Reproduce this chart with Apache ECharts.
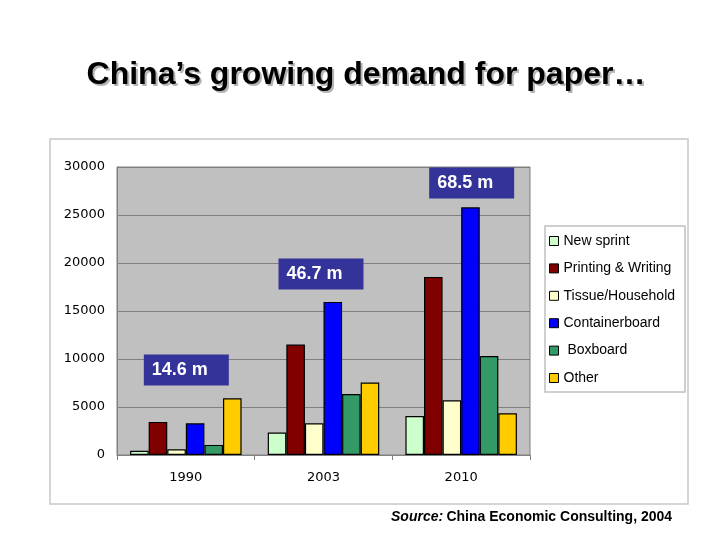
<!DOCTYPE html>
<html><head><meta charset="utf-8">
<script src="https://cdn.jsdelivr.net/npm/echarts@6/dist/echarts.min.js"></script>
<style>html,body{margin:0;padding:0;background:#fff}#c{width:720px;height:540px}</style>
</head><body><div id="c"></div>
<script>
const categories = ['1990', '2003', '2010'];
const seriesNames = ['New sprint', 'Printing & Writing', 'Tissue/Household', 'Containerboard', ' Boxboard', 'Other'];
const newsprint = [450, 2350, 4050];
const printing = [3450, 11500, 18550];
const tissue = [600, 3300, 5700];
const container = [3300, 15950, 25800];
const boxboard = [1050, 6350, 10300];
const other = [5900, 7550, 4350];
const totals = ['14.6 m', '46.7 m', '68.5 m'];
const yTicks = [0, 5000, 10000, 15000, 20000, 25000, 30000];
const colors = ['#ccffcc', '#800000', '#ffffcc', '#0000ff', '#339966', '#ffcc00'];
const values = [newsprint, printing, tissue, container, boxboard, other];
const titleText = 'China\u2019s growing demand for paper\u2026';

const chart = echarts.init(document.getElementById('c'), null, {renderer: 'canvas'});
const series = seriesNames.map((n, i) => ({
  name: n, type: 'bar', data: values[i], barGap: '0%', barCategoryGap: '19%',
  itemStyle: {color: colors[i], borderColor: '#000', borderWidth: 1.2}
}));
chart.setOption({
  animation: false,
  graphic: [
    {type: 'rect', shape: {x: 50, y: 139, width: 638, height: 365}, style: {fill: '#fff', stroke: '#c8c8c8', lineWidth: 1.5}, z: -10},
    {type: 'text', x: 368, y: 77, z: 1, style: {text: titleText, font: 'bold 32px "Liberation Sans", Arial', fill: '#b4b4b4', align: 'center', verticalAlign: 'middle'}},
    {type: 'text', x: 366, y: 75, z: 2, style: {text: titleText, font: 'bold 32px "Liberation Sans", Arial', fill: '#000', align: 'center', verticalAlign: 'middle'}},
    {type: 'text', x: 391, y: 517, style: {verticalAlign: 'middle', rich: {i: {font: 'italic bold 14px "Liberation Sans", Arial', fill: '#000'}, n: {font: 'bold 14px "Liberation Sans", Arial', fill: '#000'}}, text: '{i|Source:} {n|China Economic Consulting, 2004}'}}
  ],
  grid: {left: 117, right: 190, top: 167, bottom: 85, show: true, backgroundColor: '#c0c0c0', borderColor: '#808080', borderWidth: 1},
  legend: {
    orient: 'vertical', left: 545, top: 226, width: 140, height: 166,
    padding: [8, 10, 7, 4], itemWidth: 9, itemHeight: 9, itemGap: 13.4,
    backgroundColor: '#fff', borderColor: '#c0c0c0', borderWidth: 1.5,
    textStyle: {fontFamily: '"Liberation Sans", Arial', fontSize: 14, color: '#000', padding: [0, 0, 0, 0]},
    icon: 'rect',
    itemStyle: {borderColor: '#000', borderWidth: 1},
    data: seriesNames
  },
  xAxis: {
    type: 'category', data: categories,
    axisLine: {lineStyle: {color: '#808080'}},
    axisTick: {show: true, length: 5, lineStyle: {color: '#808080'}},
    axisLabel: {fontFamily: '"DejaVu Sans", Verdana', fontSize: 13, color: '#000', margin: 16}
  },
  yAxis: {
    type: 'value', min: 0, max: 30000, interval: 5000,
    axisLine: {show: true, lineStyle: {color: '#808080'}},
    axisTick: {show: false},
    splitLine: {lineStyle: {color: '#808080', width: 1}},
    axisLabel: {fontFamily: '"DejaVu Sans", Verdana', fontSize: 13, color: '#000', margin: 12,
      formatter: v => yTicks.includes(v) ? String(v) : ''}
  },
  series: series
});

// Total annotation boxes placed by data coordinates
const boxY = [8850, 18850, 28330];
const boxOffset = [0, -3, 10];
const extra = categories.map((c, i) => {
  const p = chart.convertToPixel({gridIndex: 0}, [c, boxY[i]]);
  return {id: 'box' + i, type: 'text', x: p[0] + boxOffset[i] - 42, y: p[1] - 15.5,
    style: {text: totals[i], font: 'bold 18px "Liberation Sans", Arial', fill: '#fff',
      backgroundColor: '#333399', padding: [6.5, 8, 6.5, 8], width: 69}, z: 100};
});
chart.setOption({graphic: extra});
</script></body></html>
